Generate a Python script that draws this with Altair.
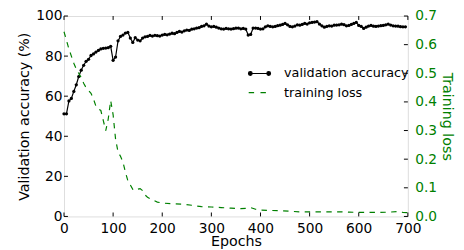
import altair as alt
import pandas as pd

# ---- data ----
acc_epochs = list(range(0, 700, 5))
acc_values = [
    51.2, 51.2, 57.6, 58.9, 62.4, 65.7, 69.8, 73.0, 75.4, 77.4,
    78.4, 80.3, 81.1, 82.0, 82.8, 83.6, 83.9, 84.0, 84.2, 84.9,
    77.9, 79.5, 87.6, 89.8, 90.5, 91.5, 91.8, 89.0, 86.8, 89.2,
    88.0, 87.6, 89.0, 89.6, 89.8, 90.3, 90.0, 90.4, 90.2, 90.0,
    90.5, 90.8, 90.6, 91.0, 91.4, 91.2, 91.8, 92.3, 92.0, 92.6,
    93.0, 92.8, 93.4, 93.6, 94.0, 94.2, 94.8, 95.1, 95.9, 95.0,
    94.6, 94.8, 94.4, 94.0, 93.6, 93.5, 93.8, 93.6, 93.5, 93.7,
    93.9, 94.0, 93.6, 93.8, 93.5, 90.5, 90.8, 94.0, 94.0, 93.8,
    93.5, 93.6, 94.6, 95.1, 94.8, 94.6, 94.8, 95.2, 95.4, 95.8,
    96.3, 95.6, 94.8, 94.6, 95.0, 95.6, 95.4, 95.8, 96.3, 96.0,
    96.6, 96.8, 97.0, 97.2, 96.0, 95.1, 94.4, 94.8, 95.1, 95.0,
    95.4, 95.5, 95.6, 95.9, 95.7, 95.1, 95.3, 95.8, 96.3, 96.8,
    95.3, 94.8, 93.8, 94.4, 95.0, 95.3, 94.9, 94.8, 95.0, 95.2,
    95.3, 95.6, 95.9, 95.5, 95.1, 95.0, 94.9, 94.7, 94.6, 94.6,
]
loss_epochs = [
    0, 5, 10, 15, 20, 25, 30, 35, 40, 45, 50, 55, 60, 65, 70, 75, 80, 85, 90, 95,
    100, 105, 110, 115, 120, 125, 130, 135, 140, 145, 150, 155, 160, 165, 170,
    180, 190, 200, 220, 240, 260, 280, 300, 320, 340, 360, 370, 380, 390, 400,
    420, 440, 460, 480, 500, 520, 540, 560, 580, 600, 620, 640, 660, 680, 690, 700,
]
loss_values = [
    0.645, 0.615, 0.585, 0.560, 0.535, 0.515, 0.500, 0.485, 0.465, 0.450,
    0.440, 0.430, 0.410, 0.385, 0.375, 0.370, 0.335, 0.300, 0.340, 0.405,
    0.355, 0.270, 0.225, 0.210, 0.190, 0.155, 0.125, 0.110, 0.095, 0.090,
    0.095, 0.097, 0.090, 0.075, 0.067,
    0.058, 0.050, 0.047, 0.044, 0.043, 0.039, 0.034, 0.033, 0.031, 0.029,
    0.027, 0.028, 0.031, 0.025, 0.022,
    0.021, 0.020, 0.018, 0.016, 0.016, 0.016, 0.016, 0.016, 0.015, 0.014,
    0.014, 0.014, 0.015, 0.017, 0.014, 0.013,
]
x_ticks = [0, 100, 200, 300, 400, 500, 600, 700]
acc_ticks = [0, 20, 40, 60, 80, 100]
loss_ticks = [0.0, 0.1, 0.2, 0.3, 0.4, 0.5, 0.6, 0.7]
series_names = ["validation accuracy", "training loss"]

GREEN = "#008000"
FONT = "DejaVu Sans"
W, H = 350, 204

acc_df = pd.DataFrame({"epoch": acc_epochs, "acc": acc_values, "series": series_names[0]})
loss_df = pd.DataFrame({"epoch": loss_epochs, "loss": loss_values, "series": series_names[1]})
xt_df = pd.DataFrame({"epoch": x_ticks})
at_df = pd.DataFrame({"acc": acc_ticks})
lt_df = pd.DataFrame({"loss": loss_ticks})

x_scale = alt.Scale(domain=[0, 700], nice=False, zero=False)
x_axis = alt.Axis(values=x_ticks, title="Epochs", format="d", tickSize=0,
                  labelPadding=5, titlePadding=0, domain=False, grid=False,
                  labelFlush=False, labelOverlap=False,
                  labelFontSize=14, titleFontSize=14.5, labelColor="black",
                  titleColor="black", titleFontWeight="normal", labelFont=FONT,
                  titleFont=FONT)
X = alt.X("epoch:Q", scale=x_scale, axis=x_axis)

acc_scale = alt.Scale(domain=[0, 100], nice=False, zero=False)
loss_scale = alt.Scale(domain=[0, 0.7], nice=False, zero=False)

dot_path = ("M-1,0L1,0"
            "M-1.02,0A0.17,0.17 0 1,0 -0.68,0A0.17,0.17 0 1,0 -1.02,0Z"
            "M0.68,0A0.17,0.17 0 1,0 1.02,0A0.17,0.17 0 1,0 0.68,0Z")

acc_line = alt.Chart(acc_df).mark_line(
    strokeWidth=1.2,
    point=alt.OverlayMarkDef(filled=True, size=11, color="black"),
).encode(
    x=X,
    y=alt.Y("acc:Q", scale=acc_scale,
            axis=alt.Axis(orient="left", values=acc_ticks, title="Validation accuracy (%)",
                          tickSize=0, labelPadding=2, titlePadding=4, domain=False,
                          grid=False, labelFlush=False, labelOverlap=False,
                          labelFontSize=14, titleFontSize=14.5,
                          labelColor="black", titleColor="black",
                          titleFontWeight="normal", labelFont=FONT, titleFont=FONT)),
    color=alt.Color("series:N",
                    scale=alt.Scale(domain=[series_names[0]], range=["black"]),
                    legend=alt.Legend(orient="none", legendX=187, legendY=46.5,
                                      title=None, symbolType=dot_path, symbolSize=484,
                                      symbolStrokeWidth=1.2, symbolFillColor="black",
                                      labelFontSize=13, labelOffset=13, padding=0,
                                      labelFont=FONT, labelColor="black")),
)

loss_line = alt.Chart(loss_df).mark_line(strokeWidth=1.2, strokeDash=[5.5, 5.5]).encode(
    x=X,
    y=alt.Y("loss:Q", scale=loss_scale,
            axis=alt.Axis(orient="right", values=loss_ticks, format=".1f",
                          title="Training loss", tickSize=0, labelPadding=7,
                          titlePadding=3, domain=False, grid=False,
                          labelFlush=False, labelOverlap=False,
                          labelFontSize=14, titleFontSize=14.5,
                          labelColor=GREEN, titleColor=GREEN,
                          titleFontWeight="normal", labelFont=FONT, titleFont=FONT)),
    color=alt.Color("series:N",
                    scale=alt.Scale(domain=[series_names[1]], range=[GREEN]),
                    legend=alt.Legend(orient="none", legendX=187, legendY=66,
                                      title=None, symbolType="stroke", symbolSize=484,
                                      symbolStrokeWidth=1.2, symbolDash=[5.5, 6.5],
                                      labelFontSize=13, labelOffset=13, padding=0,
                                      labelFont=FONT, labelColor="black")),
)

bottom_ticks = alt.Chart(xt_df).mark_rule(color="black", strokeWidth=1).encode(
    x=X, y=alt.value(H), y2=alt.value(H - 4))
top_ticks = alt.Chart(xt_df).mark_rule(color="black", strokeWidth=1).encode(
    x=X, y=alt.value(0), y2=alt.value(4))
left_ticks = alt.Chart(at_df).mark_rule(color="black", strokeWidth=1).encode(
    x=alt.value(0), x2=alt.value(4),
    y=alt.Y("acc:Q", scale=acc_scale, axis=None))
right_ticks = alt.Chart(lt_df).mark_rule(color="black", strokeWidth=1).encode(
    x=alt.value(W - 4), x2=alt.value(W),
    y=alt.Y("loss:Q", scale=loss_scale, axis=None))

chart = alt.layer(
    acc_line, loss_line, bottom_ticks, top_ticks, left_ticks, right_ticks
).resolve_scale(
    y="independent", color="independent"
).properties(
    width=W, height=H,
    autosize=alt.AutoSizeParams(type="none"),
    padding={"left": 57, "top": 6, "right": 49, "bottom": 32},
).configure_view(
    stroke="black", strokeWidth=1
).configure(
    background="white"
)

chart.save("out.html", embed_options={"renderer": "svg", "actions": False})
